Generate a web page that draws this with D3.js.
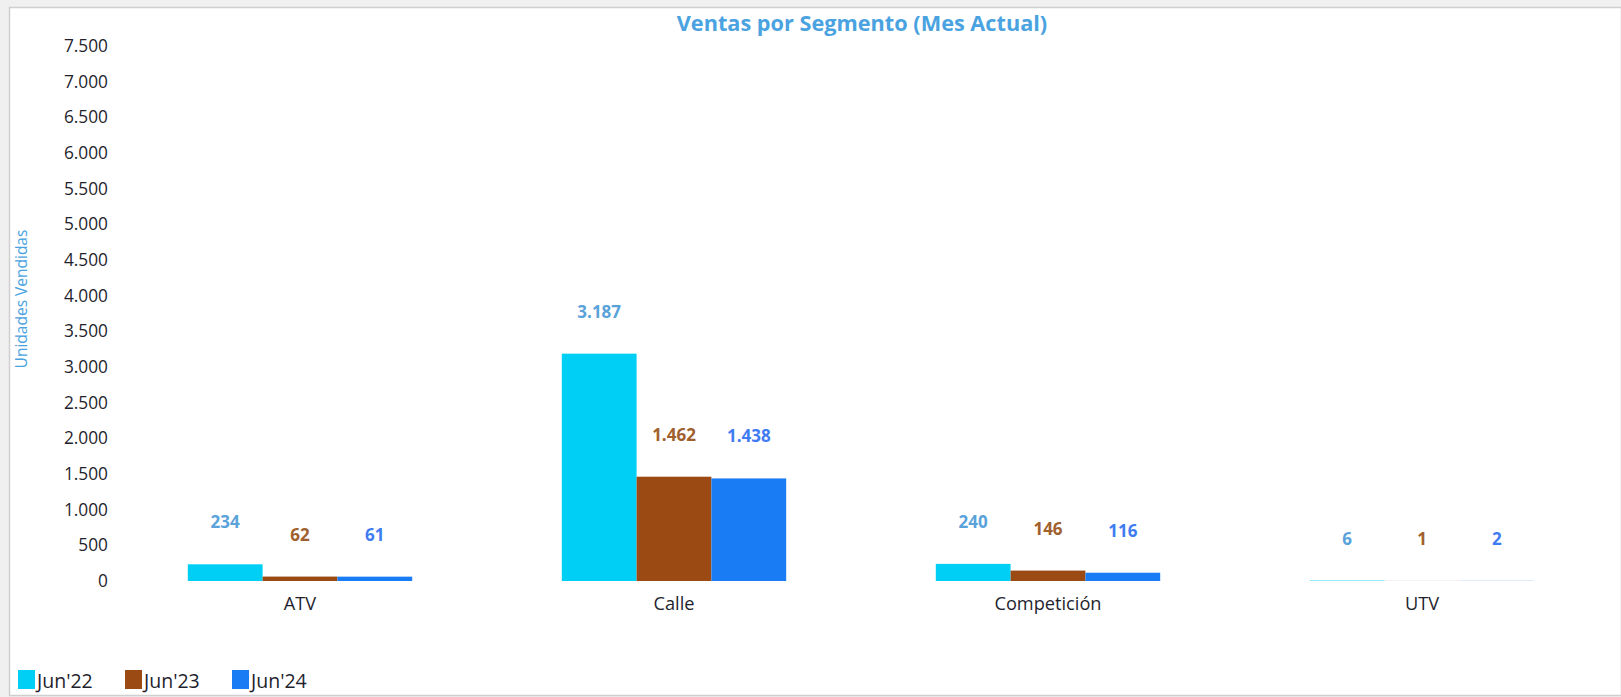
<!DOCTYPE html>
<html>
<head>
<meta charset="utf-8">
<script src="https://cdn.jsdelivr.net/npm/d3@7"></script>
<style>
  html, body { margin: 0; padding: 0; background: #f0f0f0; }
  svg { display: block; }
</style>
</head>
<body>
<svg id="chart" width="1621" height="697"></svg>
<script>
const categories = ["ATV", "Calle", "Competición", "UTV"];
const seriesNames = ["Jun'22", "Jun'23", "Jun'24"];
const jun22 = [234, 3187, 240, 6];
const jun23 = [62, 1462, 146, 1];
const jun24 = [61, 1438, 116, 2];
const seriesValues = [jun22, jun23, jun24];
const yTicks = [0, 500, 1000, 1500, 2000, 2500, 3000, 3500, 4000, 4500, 5000, 5500, 6000, 6500, 7000, 7500];

const barColors = ["#00CFF5", "#9C4A14", "#1A7CF5"];
const labelColors = ["#5AA2DA", "#A0602E", "#3F7CF2"];

const W = 1621, H = 697;
const svg = d3.select("#chart");
const font = "'Open Sans', 'Noto Sans', sans-serif";

// panel
svg.append("rect").attr("x", 9.5).attr("y", 7.5).attr("width", W - 9).attr("height", 688)
  .attr("fill", "#ffffff").attr("stroke", "#cfcfcf").attr("stroke-width", 1.5);

const locale = d3.formatLocale({ decimal: ",", thousands: ".", grouping: [3], currency: ["", ""] });
const fmt = locale.format(",d");

const y = d3.scaleLinear().domain([0, 7500]).range([581, 46]);
const x0 = d3.scaleBand().domain(categories).range([113, 1609]).paddingInner(0.4).paddingOuter(0.2);
const x1 = d3.scaleBand().domain(seriesNames).range([0, x0.bandwidth()]);

// title
svg.append("text").attr("x", 862).attr("y", 23).attr("dy", "0.35em")
  .attr("text-anchor", "middle").attr("font-family", font).attr("font-weight", "bold")
  .attr("font-size", 21.7).attr("fill", "#4AA3E0").text("Ventas por Segmento (Mes Actual)");

// y axis title
svg.append("text").attr("transform", "translate(22,299) rotate(-90)").attr("dy", "0.35em")
  .attr("text-anchor", "middle").attr("font-family", font).attr("font-size", 15.5)
  .attr("fill", "#4AA3E0").text("Unidades Vendidas");

// y axis
const yAxis = d3.axisLeft(y).tickValues(yTicks).tickFormat(fmt).tickSize(0).tickPadding(0);
const yg = svg.append("g").attr("transform", "translate(108,0)").call(yAxis);
yg.select(".domain").remove();
yg.selectAll("text").attr("font-family", font).attr("font-size", 17.3).attr("fill", "#1f1f2e");

// x axis labels
const xAxis = d3.axisBottom(x0).tickSize(0).tickPadding(0);
const xg = svg.append("g").attr("transform", "translate(0,597)").call(xAxis);
xg.select(".domain").remove();
xg.selectAll("text").attr("font-family", font).attr("font-size", 18.2).attr("fill", "#1f1f2e");

// bars
const rows = [];
categories.forEach((c, i) => {
  seriesNames.forEach((s, j) => rows.push({ cat: c, series: s, j: j, value: seriesValues[j][i] }));
});

svg.append("g").selectAll("rect").data(rows).join("rect")
  .attr("x", d => x0(d.cat) + x1(d.series))
  .attr("y", d => y(d.value))
  .attr("width", x1.bandwidth())
  .attr("height", d => y(0) - y(d.value))
  .attr("fill", d => barColors[d.j]);

svg.append("g").selectAll("text").data(rows).join("text")
  .attr("x", d => x0(d.cat) + x1(d.series) + x1.bandwidth() / 2)
  .attr("y", d => y(d.value) - 42)
  .attr("dy", "0.35em")
  .attr("text-anchor", "middle")
  .attr("font-family", font).attr("font-weight", "bold").attr("font-size", 17)
  .attr("fill", d => labelColors[d.j])
  .text(d => fmt(d.value));

// legend
const legendX = [18, 125, 232];
const lg = svg.append("g");
seriesNames.forEach((s, j) => {
  lg.append("rect").attr("x", legendX[j]).attr("y", 670).attr("width", 17).attr("height", 19)
    .attr("fill", barColors[j]);
  lg.append("text").attr("x", legendX[j] + 19).attr("y", 681).attr("dy", "0.35em")
    .attr("font-family", font).attr("font-size", 19.5).attr("fill", "#1f1f2e").text(s);
});
</script>
</body>
</html>
